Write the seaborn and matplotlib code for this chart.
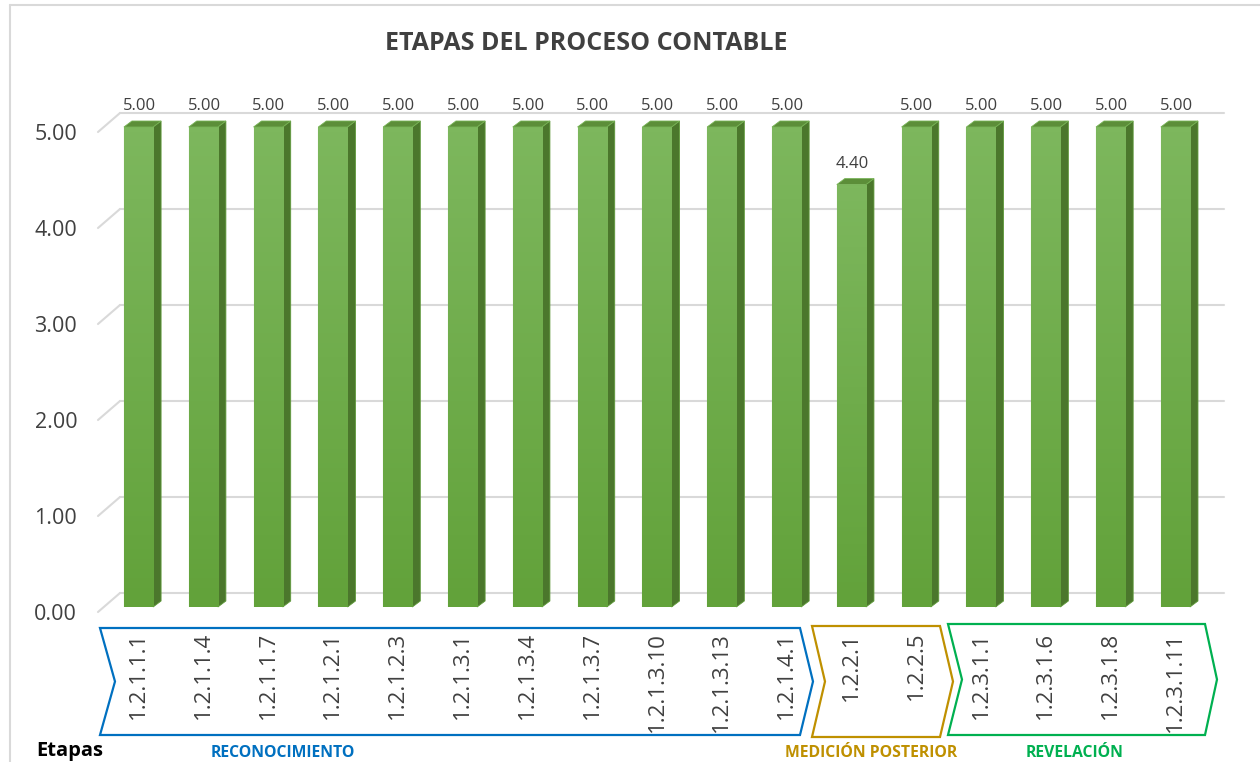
import matplotlib
matplotlib.use('Agg')
import matplotlib.pyplot as plt
import matplotlib.transforms as mtransforms
from matplotlib.colors import LinearSegmentedColormap
from matplotlib.lines import Line2D
from matplotlib.patches import Polygon
import numpy as np
import pandas as pd
import seaborn as sns

# data
categories = ['1.2.1.1.1', '1.2.1.1.4', '1.2.1.1.7', '1.2.1.2.1', '1.2.1.2.3',
              '1.2.1.3.1', '1.2.1.3.4', '1.2.1.3.7', '1.2.1.3.10', '1.2.1.3.13',
              '1.2.1.4.1', '1.2.2.1', '1.2.2.5', '1.2.3.1.1', '1.2.3.1.6',
              '1.2.3.1.8', '1.2.3.1.11']
values = [5.00, 5.00, 5.00, 5.00, 5.00, 5.00, 5.00, 5.00, 5.00, 5.00,
          5.00, 4.40, 5.00, 5.00, 5.00, 5.00, 5.00]
groups = ['RECONOCIMIENTO', 'MEDICIÓN POSTERIOR', 'REVELACIÓN']
group_colors = ['#0070c0', '#bf9000', '#00b050']
y_ticks = [0, 1, 2, 3, 4, 5]

W, H = 1260, 762


def fx(px):
    return px / W


def fy(py):
    return 1 - py / H


def main():
    sns.set_style('white')
    plt.rcParams['font.family'] = ['Open Sans', 'DejaVu Sans']

    df = pd.DataFrame({'etapa': categories, 'valor': values})

    fig = plt.figure(figsize=(W / 100, H / 100), dpi=100)
    ax = fig.add_axes([fx(98), fy(607), (1224 - 98) / W, (607 - 127) / H])
    ax.patch.set_alpha(0)

    sns.barplot(x='etapa', y='valor', data=df, color='#70ad47', width=0.45,
                ax=ax, zorder=3, edgecolor='#8cc66a', linewidth=0.8)
    xlim = (-0.625, 16.75)
    ylim = (0, 5)
    ax.set_xlim(*xlim)
    ax.set_ylim(*ylim)

    # pixels per data unit
    sx = (1224 - 98) / (xlim[1] - xlim[0])
    sy = (607 - 127) / (ylim[1] - ylim[0])
    dx, dy = 8 / sx, 6 / sy

    # back wall gridlines with the little side-wall diagonal
    for v in y_ticks:
        yb = v + 14 / sy
        ax.plot([-0.625 + 22 / sx, xlim[1]], [yb, yb], color='#d9d9d9', lw=1.5,
                clip_on=False, zorder=1)
        ax.plot([-0.625, -0.625 + 22 / sx], [v - 5 / sy, yb], color='#d9d9d9',
                lw=1.5, clip_on=False, zorder=1)

    cmap = LinearSegmentedColormap.from_list('g', ['#62a23a', '#7db75d'])
    grad = np.linspace(0, 1, 100).reshape(-1, 1)
    for bar, v in zip(list(ax.patches), values):
        x0, w, h = bar.get_x(), bar.get_width(), bar.get_height()
        img = ax.imshow(grad, extent=[x0, x0 + w, 0, h], origin='lower',
                        cmap=cmap, aspect='auto', zorder=3.5)
        img.set_clip_path(bar)
        side = Polygon([(x0 + w, 0), (x0 + w + dx, dy), (x0 + w + dx, h + dy), (x0 + w, h)],
                       closed=True, facecolor='#4b772c', edgecolor='#5f9a3a', lw=0.6,
                       zorder=3, clip_on=False)
        top = Polygon([(x0, h), (x0 + w, h), (x0 + w + dx, h + dy), (x0 + dx, h + dy)],
                      closed=True, facecolor='#5c8e39', edgecolor='#77b356', lw=0.6,
                      zorder=4, clip_on=False)
        ax.add_patch(side)
        ax.add_patch(top)
        ax.annotate('{:.2f}'.format(v), (x0 + w / 2, h), xytext=(0.5, 9),
                    textcoords='offset points', ha='center', va='bottom',
                    fontsize=12, color='#404040', annotation_clip=False)
    ax.set_xlim(*xlim)
    ax.set_ylim(*ylim)

    for s in ax.spines.values():
        s.set_visible(False)
    ax.set_xlabel('')
    ax.set_ylabel('')
    ax.set_yticks(y_ticks)
    ax.set_yticklabels(['{:.2f}'.format(t) for t in y_ticks], fontsize=15.5, color='#404040')
    ax.tick_params(axis='y', length=0, pad=15)
    shift = mtransforms.ScaledTranslation(0, -0.05, fig.dpi_scale_trans)
    for lab in ax.get_yticklabels():
        lab.set_transform(lab.get_transform() + shift)
    ax.set_xticks(range(len(categories)))
    ax.set_xticklabels(categories, rotation=90, fontsize=16, color='#404040',
                       va='top', ha='center')
    ax.tick_params(axis='x', length=0, pad=18)

    # chevrons around the groups (pixel layout)
    chevrons = [(100, 800, 13, 628, 735, 15),
                (812, 940, 13, 626, 737, 13),
                (948, 1205, 12, 624, 735, 14)]
    for (x0, x1, tip, yt, yb, notch), col in zip(chevrons, group_colors):
        ym = (yt + yb) / 2
        pts = [(x0, yt), (x1, yt), (x1 + tip, ym), (x1, yb), (x0, yb), (x0 + notch, ym)]
        fig.add_artist(Polygon([(fx(a), fy(b)) for a, b in pts], closed=True, fill=False,
                               edgecolor=col, lw=1.6, transform=fig.transFigure))

    group_x = [283, 871, 1075]
    for name, col, gx in zip(groups, group_colors, group_x):
        fig.text(fx(gx), fy(745), name, ha='center', va='top', fontsize=11.3,
                 fontweight='bold', color=col)
    fig.text(fx(36), fy(761), 'Etapas', ha='left', va='bottom', fontsize=14.5,
             fontweight='bold', color='black')

    fig.text(fx(586), fy(44), 'ETAPAS DEL PROCESO CONTABLE', ha='center', va='center',
             fontsize=18, fontweight='bold', color='#404040')

    # chart border
    fig.add_artist(Line2D([fx(10), fx(10)], [fy(5), 0], color='#d9d9d9', lw=1.5))
    fig.add_artist(Line2D([fx(10), 1], [fy(5), fy(5)], color='#d9d9d9', lw=1.5))

    fig.savefig('out.png', dpi=100)


if __name__ == '__main__':
    main()
